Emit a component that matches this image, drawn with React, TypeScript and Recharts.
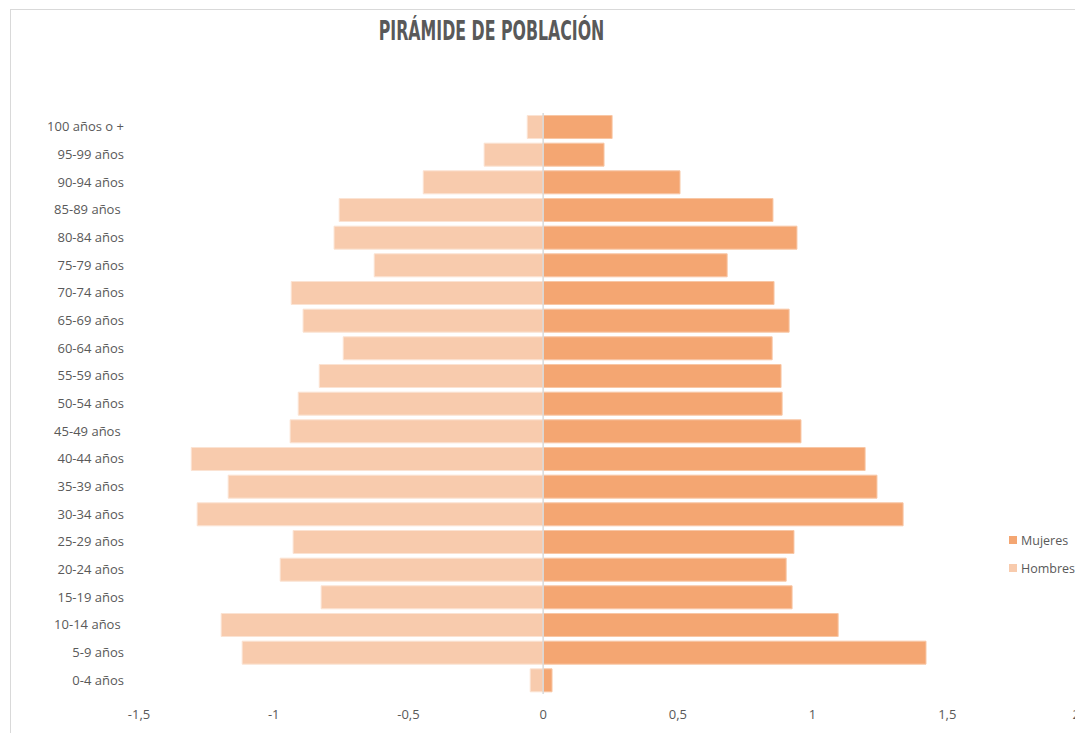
import React from 'react';
import { BarChart, Bar, XAxis, YAxis, ReferenceLine } from 'recharts';

const ageGroups = [
  '100 años o +', '95-99 años', '90-94 años', '85-89 años\u00a0', '80-84 años', '75-79 años',
  '70-74 años', '65-69 años', '60-64 años', '55-59 años', '50-54 años', '45-49 años\u00a0',
  '40-44 años', '35-39 años', '30-34 años', '25-29 años', '20-24 años', '15-19 años',
  '10-14 años\u00a0', '5-9 años', '0-4 años',
];
const mujeres = [
  0.256, 0.226, 0.508, 0.853, 0.942, 0.683, 0.857, 0.913, 0.85, 0.883, 0.887, 0.957,
  1.195, 1.239, 1.336, 0.931, 0.902, 0.924, 1.095, 1.421, 0.033,
];
const hombres = [
  -0.059, -0.219, -0.445, -0.757, -0.776, -0.627, -0.935, -0.891, -0.742, -0.831, -0.909, -0.939,
  -1.306, -1.169, -1.284, -0.928, -0.976, -0.824, -1.195, -1.117, -0.048,
];
const xTicks = [-1.5, -1, -0.5, 0, 0.5, 1, 1.5, 2];
const seriesNames = ['Mujeres', 'Hombres'];

const data = ageGroups.map((age, i) => ({ age, Hombres: hombres[i], Mujeres: mujeres[i] }));

const C_MUJ = '#F4A672';
const C_HOM = '#F8CBAD';
const TXT = '#595959';
const FONT = '"Open Sans", "Noto Sans", sans-serif';
const colorOf: Record<string, string> = { Mujeres: C_MUJ, Hombres: C_HOM };

const fmt = (v: number) => String(v).replace('.', ',');

const XTick = (props: any) => {
  const { x, y, payload, index } = props;
  const last = index === xTicks.length - 1;
  return (
    <text
      x={last ? x - 2 : x}
      y={y}
      dy="0.71em"
      textAnchor={last ? 'end' : 'middle'}
      fill={TXT}
      fontSize={13}
      fontFamily={FONT}
    >
      {fmt(payload.value)}
    </text>
  );
};

export default function App() {
  return (
    <div style={{ position: 'relative', width: 1075, height: 725, overflow: 'hidden', background: '#fff' }}>
      <div style={{ position: 'absolute', left: 2, top: 1, width: 1200, height: 900, border: '1px solid #d9d9d9' }} />
      <div
        style={{
          position: 'absolute', left: 184, top: 7, width: 600, textAlign: 'center',
          fontFamily: '"DejaVu Sans Condensed", "DejaVu Sans", sans-serif', fontWeight: 'bold',
          fontSize: 27, color: TXT, whiteSpace: 'nowrap',
        }}
      >
        <span style={{ display: 'inline-block', transform: 'scaleX(0.65)', transformOrigin: 'center' }}>
          PIRÁMIDE DE POBLACIÓN
        </span>
      </div>
      <BarChart
        width={1075}
        height={725}
        data={data}
        layout="vertical"
        stackOffset="sign"
        margin={{ top: 105, right: 1, bottom: 9, left: 0 }}
        barCategoryGap="9%"
        style={{ position: 'absolute', left: 0, top: 0 }}
      >
        <XAxis
          type="number"
          domain={[-1.5, 2]}
          ticks={xTicks}
          interval={0}
          axisLine={false}
          tickLine={false}
          tickMargin={10}
          height={30}
          allowDataOverflow
          tick={<XTick />}
        />
        <YAxis
          type="category"
          dataKey="age"
          width={131}
          axisLine={false}
          tickLine={false}
          tickMargin={9}
          interval={0}
          tick={{ fill: TXT, fontSize: 13, fontFamily: FONT }}
        />
        <Bar dataKey="Hombres" stackId="a" fill={C_HOM} stroke="#fbe3d3" strokeWidth={1} isAnimationActive={false} />
        <Bar dataKey="Mujeres" stackId="a" fill={C_MUJ} stroke="#f8c7a6" strokeWidth={1} isAnimationActive={false} />
        <ReferenceLine x={0} stroke="#d9d9d9" strokeWidth={1.5} />
      </BarChart>
      <div style={{ position: 'absolute', left: 1001, top: 518, width: 72, fontFamily: FONT, fontSize: 12.5, color: TXT }}>
        {seriesNames.map((name) => (
          <div key={name} style={{ display: 'flex', alignItems: 'center', height: 28, whiteSpace: 'nowrap' }}>
            <span style={{ width: 8, height: 8, background: colorOf[name], display: 'inline-block', marginRight: 4, flexShrink: 0 }} />
            <span>{name}</span>
          </div>
        ))}
      </div>
    </div>
  );
}
